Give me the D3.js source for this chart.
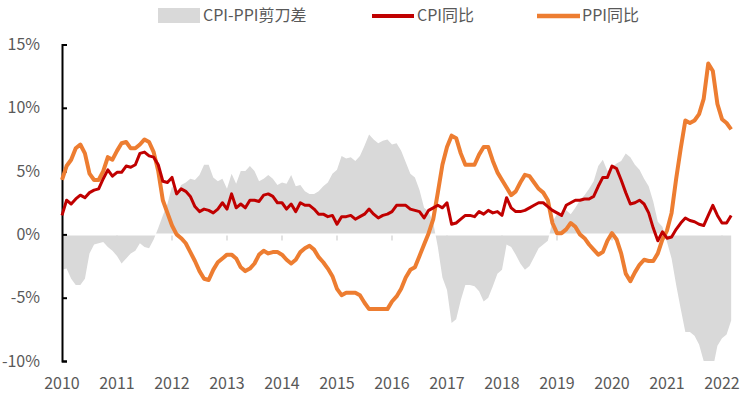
<!DOCTYPE html>
<html><head><meta charset="utf-8">
<script src="https://cdn.jsdelivr.net/npm/d3@7"></script>
<style>
html,body{margin:0;padding:0;background:#fff;}
svg text{font-family:"Noto Sans CJK SC","Noto Sans",sans-serif;fill:#595959;}
</style></head>
<body><svg id="c" width="747" height="400"></svg>
<script>
// Monthly data, Jan 2010 – Mar 2022
const cpi = [
1.5,2.7,2.4,2.8,3.1,2.9,3.3,3.5,3.6,4.4,5.1,4.6,
4.9,4.9,5.4,5.3,5.5,6.4,6.5,6.2,6.1,5.5,4.2,4.1,
4.5,3.2,3.6,3.4,3.0,2.2,1.8,2.0,1.9,1.7,2.0,2.5,
2.0,3.2,2.1,2.4,2.1,2.7,2.7,2.6,3.1,3.2,3.0,2.5,
2.5,2.0,2.4,1.8,2.5,2.3,2.3,2.0,1.6,1.6,1.4,1.5,
0.8,1.4,1.4,1.5,1.2,1.4,1.6,2.0,1.6,1.3,1.5,1.6,
1.8,2.3,2.3,2.3,2.0,1.9,1.8,1.3,1.9,2.1,2.3,2.1,
2.5,0.8,0.9,1.2,1.5,1.5,1.4,1.8,1.6,1.9,1.7,1.8,
1.5,2.9,2.1,1.8,1.8,1.9,2.1,2.3,2.5,2.5,2.2,1.9,
1.7,1.5,2.3,2.5,2.7,2.7,2.8,2.8,3.0,3.8,4.5,4.5,
5.4,5.2,4.3,3.3,2.4,2.5,2.7,2.4,1.7,0.5,-0.5,0.2,
-0.3,-0.2,0.4,0.9,1.3,1.1,1.0,0.8,0.7,1.5,2.3,1.5,
0.9,0.9,1.5];
const ppi = [
4.3,5.4,5.9,6.8,7.1,6.4,4.8,4.3,4.3,5.0,6.1,5.9,
6.6,7.2,7.3,6.8,6.8,7.1,7.5,7.3,6.5,5.0,2.7,1.7,
0.7,0.0,-0.3,-0.7,-1.4,-2.1,-2.9,-3.5,-3.6,-2.8,-2.2,-1.9,
-1.6,-1.6,-1.9,-2.6,-2.9,-2.7,-2.3,-1.6,-1.3,-1.5,-1.4,-1.4,
-1.6,-2.0,-2.3,-2.0,-1.4,-1.1,-0.9,-1.2,-1.8,-2.2,-2.7,-3.3,
-4.3,-4.8,-4.6,-4.6,-4.6,-4.8,-5.4,-5.9,-5.9,-5.9,-5.9,-5.9,
-5.3,-4.9,-4.3,-3.4,-2.8,-2.6,-1.7,-0.8,0.1,1.2,3.3,5.5,
6.9,7.8,7.6,6.4,5.5,5.5,5.5,6.3,6.9,6.9,5.8,4.9,
4.3,3.7,3.1,3.4,4.1,4.7,4.6,4.1,3.6,3.3,2.7,0.9,
0.1,0.1,0.4,0.9,0.6,0.0,-0.3,-0.8,-1.2,-1.6,-1.4,-0.5,
0.1,-0.4,-1.5,-3.1,-3.7,-3.0,-2.4,-2.0,-2.1,-2.1,-1.5,-0.4,
0.3,1.7,4.4,6.8,9.0,8.8,9.0,9.5,10.7,13.5,12.9,10.3,
9.1,8.8,8.3];
const years = [2010,2011,2012,2013,2014,2015,2016,2017,2018,2019,2020,2021,2022];
const yTicks = [15,10,5,0,-5,-10];
const seriesNames = ["CPI-PPI剪刀差","CPI同比","PPI同比"];
const firstYear = 2010;

const svg = d3.select("#c");
const x = d3.scaleLinear().domain([0,144]).range([62,722]);
const y = d3.scaleLinear().domain([-10,15]).range([361,44.5]);
const xi = (i)=>x(i);

const spread = cpi.map((v,i)=>+(v - ppi[i]).toFixed(2));

svg.append("defs").append("clipPath").attr("id","plot")
  .append("rect").attr("x",x(0)).attr("y",y(15)).attr("width",700).attr("height",y(-10)-y(15));

// area
svg.append("path").datum(spread)
  .attr("clip-path","url(#plot)")
  .attr("fill","#D9D9D9")
  .attr("d", d3.area().x((d,i)=>xi(i)).y0(y(0)).y1(d=>y(d)));

// x axis (white line) and ticks
const xAxis = svg.append("g").attr("transform",`translate(0,${y(0)})`);
xAxis.append("line").attr("x1",x(0)).attr("x2",x(cpi.length-1)+1).attr("y1",0).attr("y2",0)
  .attr("stroke","#fff").attr("stroke-width",2);
xAxis.selectAll("line.t").data(years.slice(1)).enter().append("line").attr("class","t")
  .attr("x1",d=>x((d-firstYear)*12)).attr("x2",d=>x((d-firstYear)*12))
  .attr("y1",1).attr("y2",6).attr("stroke","#D9D9D9").attr("stroke-width",1.5);

// year labels
svg.append("g").selectAll("text").data(years).enter().append("text")
  .attr("x",d=>x((d-firstYear)*12)).attr("y",389)
  .attr("text-anchor","middle").attr("font-size",16).text(d=>d);

// y axis
const yAxis = d3.axisLeft(y).tickValues(yTicks).tickSize(-5).tickPadding(22).tickFormat(d=>d+"%");
const ga = svg.append("g").attr("transform",`translate(${x(0)},0)`).call(yAxis);
ga.select(".domain").attr("stroke","#000").attr("stroke-width",2);
ga.selectAll(".tick line").attr("stroke","#000").attr("stroke-width",2);
ga.selectAll(".tick text").attr("font-size",16).attr("fill","#595959")
  .style("font-family",'"Noto Sans CJK SC","Noto Sans",sans-serif');

// lines
const line = d3.line().x((d,i)=>xi(i)).y(d=>y(d));
svg.append("path").datum(ppi).attr("fill","none").attr("stroke","#ED7D31")
  .attr("stroke-width",4).attr("stroke-linejoin","round").attr("d",line);
svg.append("path").datum(cpi).attr("fill","none").attr("stroke","#C00000")
  .attr("stroke-width",3).attr("stroke-linejoin","round").attr("d",line);

// legend
const lg = svg.append("g");
lg.append("rect").attr("x",158).attr("y",8).attr("width",42).attr("height",15).attr("fill","#D9D9D9");
lg.append("text").attr("x",203).attr("y",21).attr("font-size",16).text(seriesNames[0]);
lg.append("line").attr("x1",372).attr("x2",414).attr("y1",16).attr("y2",16).attr("stroke","#C00000").attr("stroke-width",4);
lg.append("text").attr("x",417).attr("y",21).attr("font-size",16).text(seriesNames[1]);
lg.append("line").attr("x1",537).attr("x2",580).attr("y1",16).attr("y2",16).attr("stroke","#ED7D31").attr("stroke-width",4.5);
lg.append("text").attr("x",582).attr("y",21).attr("font-size",16).text(seriesNames[2]);
</script></body></html>
